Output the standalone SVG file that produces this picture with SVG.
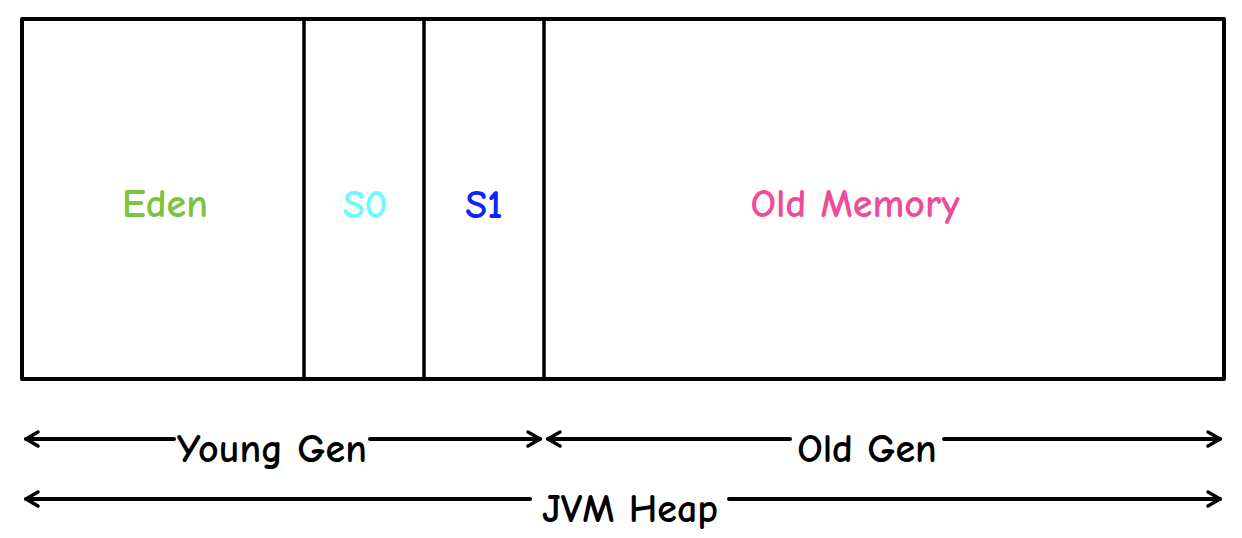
<svg xmlns="http://www.w3.org/2000/svg" width="1242" height="538" viewBox="0 0 1242 538">
<defs>
<style>
.box{fill:#fff;stroke:#000;stroke-width:4;stroke-linejoin:round}
.div{stroke:#000;stroke-width:3.5;fill:none}
.lbl{font-family:"Comic Sans MS","Comic Neue","Liberation Sans",sans-serif;font-size:40px;font-weight:bold;text-anchor:middle}
.con{stroke:#000;stroke-width:4;fill:none;stroke-linecap:round}
.head{stroke:#000;stroke-width:3.5;fill:none;stroke-linecap:round;stroke-linejoin:round}
</style>
</defs>
<rect width="1242" height="538" fill="#fff"/>
<g id="heap">
<rect class="box" x="22" y="19" width="1202" height="360"/>
</g>
<g id="eden">
<text class="lbl" x="165" y="217" fill="#7ec33f">Eden</text>
</g>
<g id="s0">
<line class="div" x1="304" y1="21" x2="304" y2="377"/>
<text class="lbl" x="365" y="218" fill="#70f8ff">S0</text>
</g>
<g id="s1">
<line class="div" x1="424" y1="21" x2="424" y2="377"/>
<text class="lbl" x="484" y="218" fill="#0b24fb">S1</text>
</g>
<g id="old">
<line class="div" x1="544" y1="21" x2="544" y2="377"/>
<text class="lbl" x="855" y="217" fill="#ee4c97">Old Memory</text>
</g>
<g id="connectors">
<line class="con" x1="26" y1="439" x2="174" y2="439"/>
<line class="con" x1="370" y1="439" x2="540" y2="439"/>
<path class="head" d="M38 432 L26 439 L38 446"/>
<path class="head" d="M528 432 L540 439 L528 446"/>
<line class="con" x1="548" y1="439" x2="790" y2="439"/>
<line class="con" x1="944" y1="439" x2="1220" y2="439"/>
<path class="head" d="M560 432 L548 439 L560 446"/>
<path class="head" d="M1208 432 L1220 439 L1208 446"/>
<line class="con" x1="26" y1="499" x2="530" y2="499"/>
<line class="con" x1="729" y1="499" x2="1220" y2="499"/>
<path class="head" d="M38 492 L26 499 L38 506"/>
<path class="head" d="M1208 492 L1220 499 L1208 506"/>
</g>
<g id="labels">
<text class="lbl" x="272" y="462" fill="#000">Young Gen</text>
<text class="lbl" x="867" y="462" fill="#000">Old Gen</text>
<text class="lbl" x="630" y="522" fill="#000">JVM Heap</text>
</g>
</svg>
